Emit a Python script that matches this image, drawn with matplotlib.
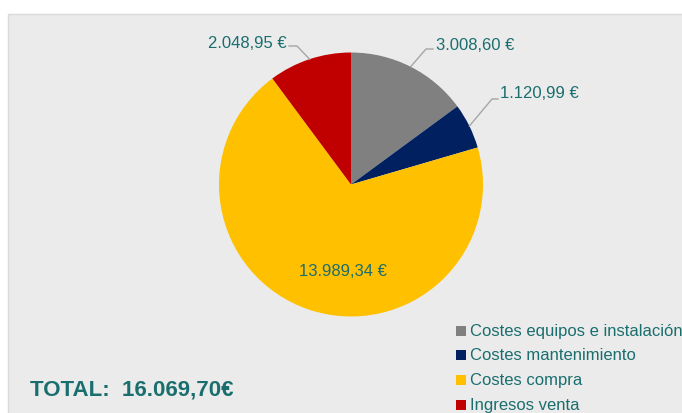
import matplotlib
matplotlib.use("Agg")
import matplotlib.pyplot as plt
import numpy as np
from matplotlib.patches import Rectangle

categories = ["Costes equipos e instalación", "Costes mantenimiento", "Costes compra", "Ingresos venta"]
values = [3008.60, 1120.99, 13989.34, 2048.95]
labels = ["3.008,60 €", "1.120,99 €", "13.989,34 €", "2.048,95 €"]
colors = ["#808080", "#002060", "#FFC000", "#C00000"]
total_text = "TOTAL:  16.069,70€"

W, H = 682, 414
fig = plt.figure(figsize=(W / 100, H / 100), dpi=100)
fig.patch.set_facecolor("white")
ax = fig.add_axes([0, 0, 1, 1])
ax.set_xlim(0, W)
ax.set_ylim(0, H)
ax.set_aspect("equal")
ax.axis("off")

# chart area background
ax.add_patch(Rectangle((8, -5), W, H - 15 + 5, facecolor="#EBEBEB", edgecolor="#D9D9D9", lw=1, zorder=0))

cx, cy, r = 351, H - 185.5, 132
wedges, _ = ax.pie(values, colors=colors, startangle=90, counterclock=False,
                   center=(cx, cy), radius=r, frame=True,
                   wedgeprops=dict(linewidth=0))
ax.set_xlim(0, W)
ax.set_ylim(0, H)
ax.axis("off")

txt_color = "#1A6E6E"
line_color = "#A6A6A6"
fs = 12

def mid_point(w, frac=1.0):
    ang = np.deg2rad((w.theta1 + w.theta2) / 2)
    return cx + frac * r * np.cos(ang), cy + frac * r * np.sin(ang)

# 3.008,60
x0, y0 = mid_point(wedges[0])
ax.plot([x0, 426, 433], [y0, H - 50, H - 50], color=line_color, lw=1, zorder=3)
ax.text(436, H - 45, labels[0], color=txt_color, fontsize=fs, ha="left", va="center",
        family="Liberation Sans")
# 1.120,99
x1, y1 = mid_point(wedges[1])
ax.plot([x1, 492, 498], [y1, H - 100, H - 100], color=line_color, lw=1, zorder=3)
ax.text(500, H - 94, labels[1], color=txt_color, fontsize=fs, ha="left", va="center",
        family="Liberation Sans")
# 2.048,95
x3, y3 = mid_point(wedges[3])
ax.plot([x3, 297, 289], [y3, H - 47, H - 47], color=line_color, lw=1, zorder=3)
ax.text(287, H - 43, labels[3], color=txt_color, fontsize=fs, ha="right", va="center",
        family="Liberation Sans")
# 13.989,34 inside
ax.text(343, H - 271, labels[2], color=txt_color, fontsize=fs, ha="center", va="center",
        family="Liberation Sans")

# legend
ly = [332, 356, 381, 406]
for c, lab, yy in zip(colors, categories, ly):
    ax.add_patch(Rectangle((456, H - yy - 5), 10, 10, facecolor=c, edgecolor="none", zorder=3))
    ax.text(470, H - yy, lab, color=txt_color, fontsize=12, ha="left", va="center",
            family="Liberation Sans", clip_on=False)

ax.text(30, H - 390, total_text, color="#1A6E6E", fontsize=16, fontweight="bold",
        ha="left", va="center", family="Liberation Sans")

fig.savefig("out.png", dpi=100, facecolor="white")
